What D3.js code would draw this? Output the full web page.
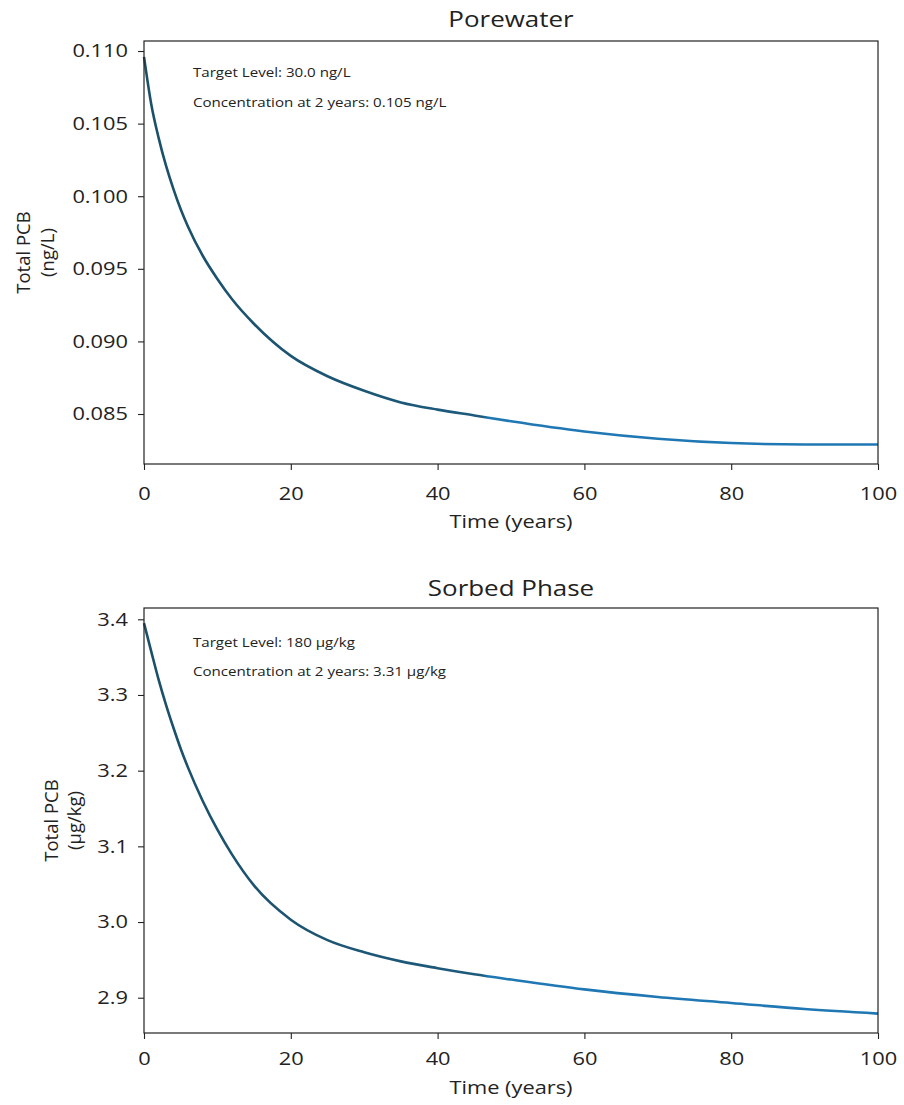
<!DOCTYPE html>
<html>
<head>
<meta charset="utf-8">
<script src="https://cdn.jsdelivr.net/npm/d3@7"></script>
<style>
  html, body { margin: 0; padding: 0; background: #fff; }
  svg text { font-family: "Open Sans", "Noto Sans", sans-serif; fill: #222; }
  .st { transform-box: fill-box; }
</style>
</head>
<body>
<svg id="chart" width="904" height="1105"></svg>
<script>
// ---- data ----
const years = [0, 1, 2, 3, 4, 5, 6, 8, 10, 12, 15, 20, 25, 30, 35, 40, 45, 50, 60, 70, 80, 90, 100];
const porewater = [0.1096, 0.1063, 0.1040, 0.1021, 0.1005, 0.0991, 0.0979, 0.0959, 0.0943, 0.0929,
  0.0912, 0.0890, 0.0876, 0.0866, 0.0858, 0.0853, 0.0849, 0.0845, 0.0838, 0.0833, 0.0830, 0.0829, 0.0829];
const sorbed = [3.395, 3.357, 3.320, 3.287, 3.257, 3.229, 3.204, 3.160, 3.122, 3.089,
  3.048, 3.003, 2.976, 2.960, 2.948, 2.939, 2.931, 2.924, 2.911, 2.901, 2.893, 2.885, 2.879];
const xTicks = [0, 20, 40, 60, 80, 100];
const poreTicks = [0.085, 0.090, 0.095, 0.100, 0.105, 0.110];
const sorbTicks = [2.9, 3.0, 3.1, 3.2, 3.3, 3.4];
const titles = ["Porewater", "Sorbed Phase"];
const yLabels = [["Total PCB", "(ng/L)"], ["Total PCB", "(\u03BCg/kg)"]];
const notes = [
  ["Target Level: 30.0 ng/L", "Concentration at 2 years: 0.105 ng/L"],
  ["Target Level: 180 \u03BCg/kg", "Concentration at 2 years: 3.31 \u03BCg/kg"]
];
const xLabel = "Time (years)";

// ---- layout ----
const svg = d3.select("#chart");
const SX = 1.18; // horizontal stretch of the reference text

const defs = svg.append("defs");
const grad = defs.append("linearGradient").attr("id", "lineGrad")
  .attr("x1", "0%").attr("x2", "100%").attr("y1", "0%").attr("y2", "0%");
grad.append("stop").attr("offset", "0%").attr("stop-color", "#1b5069");
grad.append("stop").attr("offset", "46%").attr("stop-color", "#1d5a7c");
grad.append("stop").attr("offset", "47%").attr("stop-color", "#1f77b4");
grad.append("stop").attr("offset", "100%").attr("stop-color", "#1f77b4");

const panels = [
  { top: 41, bottom: 464, yDom: [0.081557, 0.11069], ticks: poreTicks, fmt: d3.format(".3f"),
    vals: porewater, titleY: 27, labX: [22, 46], noteY: [77, 107], xtY: 493, xlY: 521 },
  { top: 608, bottom: 1033, yDom: [2.85336, 3.41493], ticks: sorbTicks, fmt: d3.format(".1f"),
    vals: sorbed, titleY: 596, labX: [50, 73], noteY: [647, 676], xtY: 1058, xlY: 1087 }
];
const left = 144, right = 878;

panels.forEach((p, i) => {
  const x = d3.scaleLinear().domain([0, 100]).range([left, right]);
  const y = d3.scaleLinear().domain(p.yDom).range([p.bottom, p.top]);
  const g = svg.append("g");

  // line
  const line = d3.line().x((d, k) => x(years[k])).y(d => y(d)).curve(d3.curveMonotoneX);
  g.append("path").datum(p.vals).attr("d", line)
    .attr("fill", "none").attr("stroke", "url(#lineGrad)").attr("stroke-width", 2.6)
    .attr("stroke-linejoin", "round");

  // frame
  g.append("rect").attr("x", left).attr("y", p.top).attr("width", right - left).attr("height", p.bottom - p.top)
    .attr("fill", "none").attr("stroke", "#222").attr("stroke-width", 1.2);

  // x axis
  const xa = g.append("g").attr("transform", `translate(0,${p.bottom})`)
    .call(d3.axisBottom(x).tickValues(xTicks).tickSize(6).tickPadding(8).tickFormat(d3.format("d")));
  xa.select(".domain").remove();
  xa.selectAll("line").attr("stroke", "#222").attr("stroke-width", 1.1);
  xa.selectAll("text").attr("font-size", 18.5).attr("dy", null)
    .attr("y", p.xtY - p.bottom).attr("dominant-baseline", "central")
    .attr("class", "st").style("transform-origin", "center").style("transform", `scaleX(${SX})`);

  // y axis
  const ya = g.append("g").attr("transform", `translate(${left},0)`)
    .call(d3.axisLeft(y).tickValues(p.ticks).tickSize(6).tickPadding(8).tickFormat(p.fmt));
  ya.select(".domain").remove();
  ya.selectAll("line").attr("stroke", "#222").attr("stroke-width", 1.1);
  ya.selectAll("text").attr("font-size", 18.5).attr("x", -16)
    .attr("class", "st").style("transform-origin", "right center").style("transform", `scaleX(${SX})`);

  // title
  g.append("text").attr("x", (left + right) / 2).attr("y", p.titleY)
    .attr("text-anchor", "middle").attr("font-size", 22).text(titles[i])
    .attr("class", "st").style("transform-origin", "center").style("transform", `scaleX(${SX})`);

  // x label
  g.append("text").attr("x", (left + right) / 2).attr("y", p.xlY)
    .attr("text-anchor", "middle").attr("dominant-baseline", "central").attr("font-size", 18.5).text(xLabel)
    .attr("class", "st").style("transform-origin", "center").style("transform", `scaleX(${SX})`);

  // y label (two lines)
  const cy = (p.top + p.bottom) / 2;
  yLabels[i].forEach((t, k) => {
    g.append("text").attr("transform", `translate(${p.labX[k]},${cy}) rotate(-90)`)
      .attr("text-anchor", "middle").attr("dominant-baseline", "central")
      .attr("font-size", 18.5).text(t);
  });

  // notes
  notes[i].forEach((t, k) => {
    g.append("text").attr("x", 193).attr("y", p.noteY[k])
      .attr("font-size", 12).text(t)
      .attr("class", "st").style("transform-origin", "left center").style("transform", "scaleX(1.26)");
  });
});
</script>
</body>
</html>
